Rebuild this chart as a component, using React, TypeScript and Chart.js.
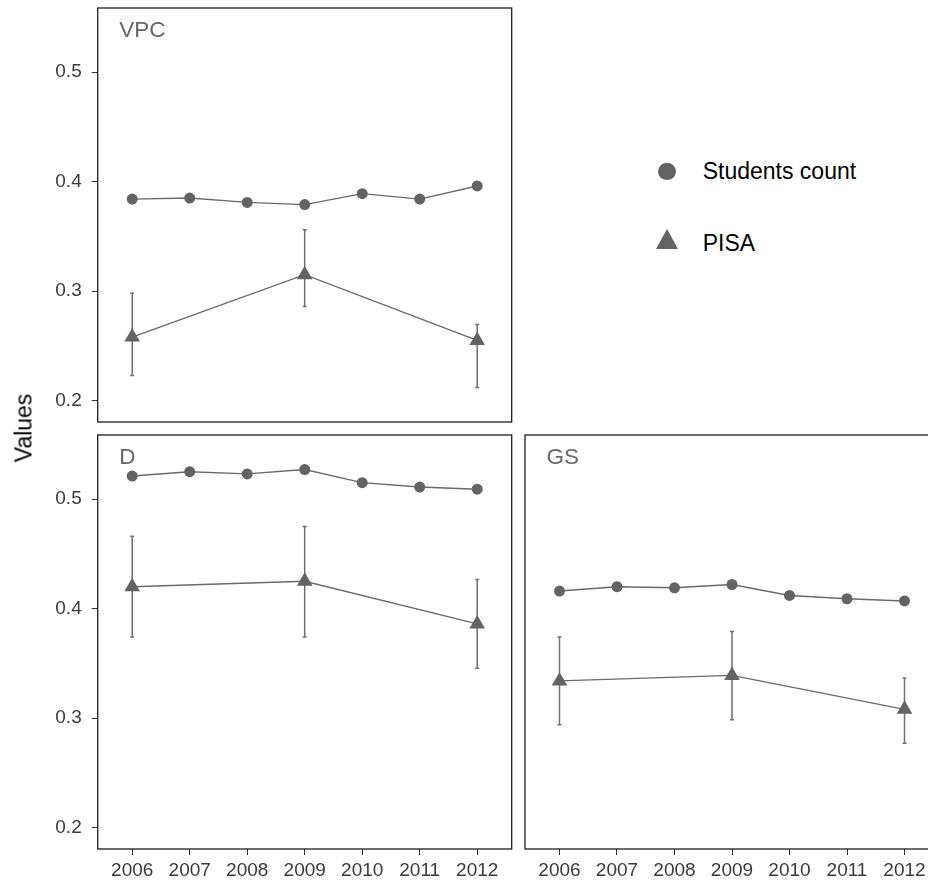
import React, { useEffect, useRef } from 'react';
import { Chart, registerables } from 'chart.js';

Chart.register(...registerables);

const FONT = "'Liberation Sans', Arial, Helvetica, sans-serif";
const MARK = '#636363';
const LINE = '#6a6a6a';
const ERR = '#707070';

const years = [2006, 2007, 2008, 2009, 2010, 2011, 2012];
const pisaYears = [2006, 2009, 2012];
const yTicks = [0.2, 0.3, 0.4, 0.5];
const legendLabels = ['Students count', 'PISA'];
const yTitle = 'Values';

// VPC panel
const vpcStudents = [0.384, 0.385, 0.381, 0.379, 0.389, 0.384, 0.396];
const vpcPisa = [0.258, 0.315, 0.255];
const vpcPisaLow = [0.223, 0.286, 0.212];
const vpcPisaHigh = [0.298, 0.356, 0.2695];

// D panel
const dStudents = [0.521, 0.525, 0.523, 0.527, 0.515, 0.511, 0.509];
const dPisa = [0.420, 0.425, 0.386];
const dPisaLow = [0.374, 0.374, 0.3455];
const dPisaHigh = [0.466, 0.475, 0.4265];

// GS panel
const gsStudents = [0.416, 0.420, 0.419, 0.422, 0.412, 0.409, 0.407];
const gsPisa = [0.334, 0.339, 0.308];
const gsPisaLow = [0.294, 0.2985, 0.277];
const gsPisaHigh = [0.374, 0.379, 0.3366];

const Y_MIN = 0.1805;
const Y_MAX = 0.5585;
const X_MIN = 2005.4;
const X_MAX = 2012.6;

function framePlugin(label: string) {
  return {
    id: 'frame_' + label,
    afterDraw(chart: any) {
      const { ctx, chartArea } = chart;
      ctx.save();
      ctx.strokeStyle = '#1e1e1e';
      ctx.lineWidth = 1.3;
      ctx.strokeRect(chartArea.left, chartArea.top, chartArea.right - chartArea.left, chartArea.bottom - chartArea.top);
      ctx.fillStyle = '#666666';
      ctx.font = `22.5px ${FONT}`;
      ctx.textBaseline = 'alphabetic';
      ctx.textAlign = 'left';
      ctx.fillText(label, chartArea.left + 21.5, chartArea.top + 29.3);
      ctx.restore();
    },
  };
}

function errorPlugin(id: string, xs: number[], low: number[], high: number[]) {
  return {
    id: 'err_' + id,
    beforeDatasetsDraw(chart: any) {
      const { ctx } = chart;
      const sx = chart.scales.x;
      const sy = chart.scales.y;
      ctx.save();
      ctx.strokeStyle = ERR;
      ctx.lineWidth = 1.5;
      xs.forEach((xv, i) => {
        const px = sx.getPixelForValue(xv);
        const y1 = sy.getPixelForValue(low[i]);
        const y2 = sy.getPixelForValue(high[i]);
        ctx.beginPath();
        ctx.moveTo(px, y1);
        ctx.lineTo(px, y2);
        ctx.moveTo(px - 2, y1);
        ctx.lineTo(px + 2, y1);
        ctx.moveTo(px - 2, y2);
        ctx.lineTo(px + 2, y2);
        ctx.stroke();
      });
      ctx.restore();
    },
  };
}

interface PanelSpec {
  label: string;
  students: number[];
  pisa: number[];
  low: number[];
  high: number[];
  showX: boolean;
  showY: boolean;
  padding: { top: number; right: number; bottom: number; left: number };
}

function buildConfig(p: PanelSpec): any {
  const xScale: any = {
    type: 'linear',
    min: X_MIN,
    max: X_MAX,
    display: p.showX,
    afterBuildTicks: (s: any) => {
      s.ticks = years.map((v) => ({ value: v }));
    },
    afterFit: (s: any) => {
      if (p.showX) s.height = 37;
      s.paddingLeft = 0;
      s.paddingRight = 0;
      s.paddingTop = 0;
      s.paddingBottom = 0;
    },
    grid: { drawOnChartArea: false, drawTicks: true, tickLength: 6, color: '#333333', lineWidth: 1 },
    border: { display: false },
    ticks: {
      padding: 4,
      color: '#3b3b3b',
      font: { family: FONT, size: 19 },
      maxRotation: 0,
      autoSkip: false,
      callback: (v: any) => String(v),
    },
  };

  const yScale: any = {
    type: 'linear',
    min: Y_MIN,
    max: Y_MAX,
    display: p.showY,
    afterBuildTicks: (s: any) => {
      s.ticks = yTicks.map((v) => ({ value: v }));
    },
    afterFit: (s: any) => {
      if (p.showY) s.width = 97.7;
      s.paddingLeft = 0;
      s.paddingRight = 0;
      s.paddingTop = 0;
      s.paddingBottom = 0;
    },
    grid: { drawOnChartArea: false, drawTicks: true, tickLength: 6, color: '#333333', lineWidth: 1 },
    border: { display: false },
    ticks: {
      padding: 10,
      color: '#3b3b3b',
      font: { family: FONT, size: 19 },
      callback: (v: any) => Number(v).toFixed(1),
    },
  };

  return {
    type: 'line',
    data: {
      datasets: [
        {
          label: legendLabels[0],
          data: years.map((x, i) => ({ x, y: p.students[i] })),
          borderColor: LINE,
          borderWidth: 1.4,
          pointStyle: 'circle',
          pointRadius: 5.5,
          pointHoverRadius: 5.5,
          pointBackgroundColor: MARK,
          pointBorderColor: MARK,
          pointBorderWidth: 0,
          fill: false,
          tension: 0,
        },
        {
          label: legendLabels[1],
          data: pisaYears.map((x, i) => ({ x, y: p.pisa[i] })),
          borderColor: LINE,
          borderWidth: 1.4,
          pointStyle: 'triangle',
          pointRadius: 9,
          pointHoverRadius: 9,
          pointBackgroundColor: MARK,
          pointBorderColor: MARK,
          pointBorderWidth: 0,
          fill: false,
          tension: 0,
        },
      ],
    },
    options: {
      responsive: false,
      animation: false,
      events: [],
      layout: { autoPadding: false, padding: p.padding },
      plugins: { legend: { display: false }, tooltip: { enabled: false } },
      scales: { x: xScale, y: yScale },
    },
    plugins: [framePlugin(p.label), errorPlugin(p.label, pisaYears, p.low, p.high)],
  };
}

export default function App() {
  const c1 = useRef<HTMLCanvasElement>(null);
  const c2 = useRef<HTMLCanvasElement>(null);
  const c3 = useRef<HTMLCanvasElement>(null);

  useEffect(() => {
    const charts: Chart[] = [];
    if (c1.current) {
      charts.push(new Chart(c1.current, buildConfig({
        label: 'VPC', students: vpcStudents, pisa: vpcPisa, low: vpcPisaLow, high: vpcPisaHigh,
        showX: false, showY: true, padding: { top: 8, right: 8.3, bottom: 8, left: 0 },
      })));
    }
    if (c2.current) {
      charts.push(new Chart(c2.current, buildConfig({
        label: 'D', students: dStudents, pisa: dPisa, low: dPisaLow, high: dPisaHigh,
        showX: true, showY: true, padding: { top: 5, right: 8.3, bottom: 0, left: 0 },
      })));
    }
    if (c3.current) {
      charts.push(new Chart(c3.current, buildConfig({
        label: 'GS', students: gsStudents, pisa: gsPisa, low: gsPisaLow, high: gsPisaHigh,
        showX: true, showY: false, padding: { top: 5, right: 1, bottom: 0, left: 5 },
      })));
    }
    return () => charts.forEach((c) => c.destroy());
  }, []);

  const abs = (l: number, t: number, w: number, h: number): React.CSSProperties => ({
    position: 'absolute', left: l, top: t, width: w, height: h, display: 'block',
  });

  return (
    <div style={{ position: 'fixed', left: 0, top: 0, width: 928, height: 886, overflow: 'hidden', background: '#ffffff', fontFamily: FONT }}>
      <canvas ref={c1} width={520} height={430} style={abs(0, 0, 520, 430)} />
      <canvas ref={c2} width={520} height={456} style={abs(0, 430, 520, 456)} />
      <canvas ref={c3} width={420} height={456} style={abs(520, 430, 420, 456)} />
      <div style={{ position: 'absolute', left: 24, top: 428, transform: 'translate(-50%, -50%) rotate(-90deg)', fontSize: 23, lineHeight: '23px', whiteSpace: 'nowrap', color: '#000' }}>{yTitle}</div>
      <div style={{ position: 'absolute', left: 658.3, top: 162.5, width: 17.5, height: 17.5, borderRadius: '50%', background: MARK }} />
      <div style={{ position: 'absolute', left: 702.7, top: 159.5, fontSize: 23, lineHeight: '23px', whiteSpace: 'nowrap', color: '#000' }}>{legendLabels[0]}</div>
      <div style={{ position: 'absolute', left: 656, top: 229.3, width: 0, height: 0, borderLeft: '11.3px solid transparent', borderRight: '11.3px solid transparent', borderBottom: `20px solid ${MARK}` }} />
      <div style={{ position: 'absolute', left: 702.7, top: 231.5, fontSize: 23, lineHeight: '23px', whiteSpace: 'nowrap', color: '#000' }}>{legendLabels[1]}</div>
    </div>
  );
}
